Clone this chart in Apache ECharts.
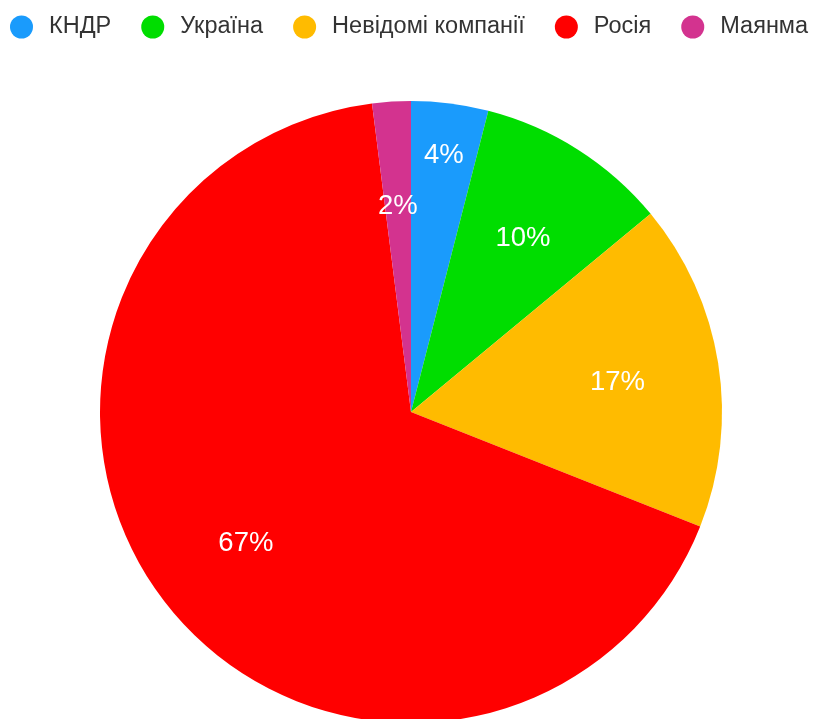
<!DOCTYPE html>
<html>
<head>
<meta charset="utf-8">
<script src="https://cdn.jsdelivr.net/npm/echarts@6/dist/echarts.min.js"></script>
<style>
  html, body { margin: 0; padding: 0; background: #fff; }
  #chart { width: 813px; height: 719px; }
</style>
</head>
<body>
<div id="chart"></div>
<script>
// Shares of suppliers, percent
const categories = ['КНДР', 'Україна', 'Невідомі компанії', 'Росія', 'Маянма'];
const shares = [4, 10, 17, 67, 2];
const colors = ['#1a9bfc', '#00dd00', '#ffbb00', '#ff0000', '#d3338f'];
// slices whose label sits farther out toward the rim
const outerLabelNames = ['КНДР'];

const FONT = '"Liberation Sans", Arial, Helvetica, sans-serif';
const CENTER = [411, 412];
const R = 311;

const sliceData = categories.map((name, i) => ({
  name, value: shares[i], itemStyle: { color: colors[i] }
}));

function labelData(showOuter) {
  return categories.map((name, i) => {
    const isOuter = outerLabelNames.includes(name);
    return {
      name, value: shares[i],
      label: { show: showOuter ? isOuter : !isOuter }
    };
  });
}

const labelStyle = {
  position: 'inside',
  formatter: p => p.value + '%',
  color: '#ffffff',
  fontFamily: FONT,
  fontSize: 27.5,
  fontWeight: 'normal',
  offset: [0, 3]
};

function labelSeries(inner, outer, showOuter) {
  return {
    type: 'pie',
    center: CENTER,
    radius: [inner, outer],
    startAngle: 90,
    silent: true,
    avoidLabelOverlap: false,
    labelLine: { show: false },
    itemStyle: { color: 'rgba(0,0,0,0)', borderWidth: 0 },
    emphasis: { disabled: true },
    label: labelStyle,
    data: labelData(showOuter),
    z: 3
  };
}

const chart = echarts.init(document.getElementById('chart'), null, { renderer: 'canvas' });
chart.setOption({
  animation: false,
  color: colors,
  legend: {
    data: categories,
    left: 10,
    top: 15,
    width: 900,
    orient: 'horizontal',
    icon: 'circle',
    itemWidth: 23,
    itemHeight: 23,
    itemGap: 30,
    padding: 0,
    textStyle: {
      fontFamily: FONT,
      fontSize: 23.5,
      color: '#333333',
      padding: [0, 0, 0, 11]
    }
  },
  series: [
    {
      type: 'pie',
      center: CENTER,
      radius: [0, R],
      startAngle: 90,
      label: { show: false },
      labelLine: { show: false },
      itemStyle: { borderWidth: 0 },
      emphasis: { disabled: true },
      data: sliceData,
      z: 2
    },
    labelSeries(154, 258, false),
    labelSeries(226, 292, true)
  ]
});
</script>
</body>
</html>
